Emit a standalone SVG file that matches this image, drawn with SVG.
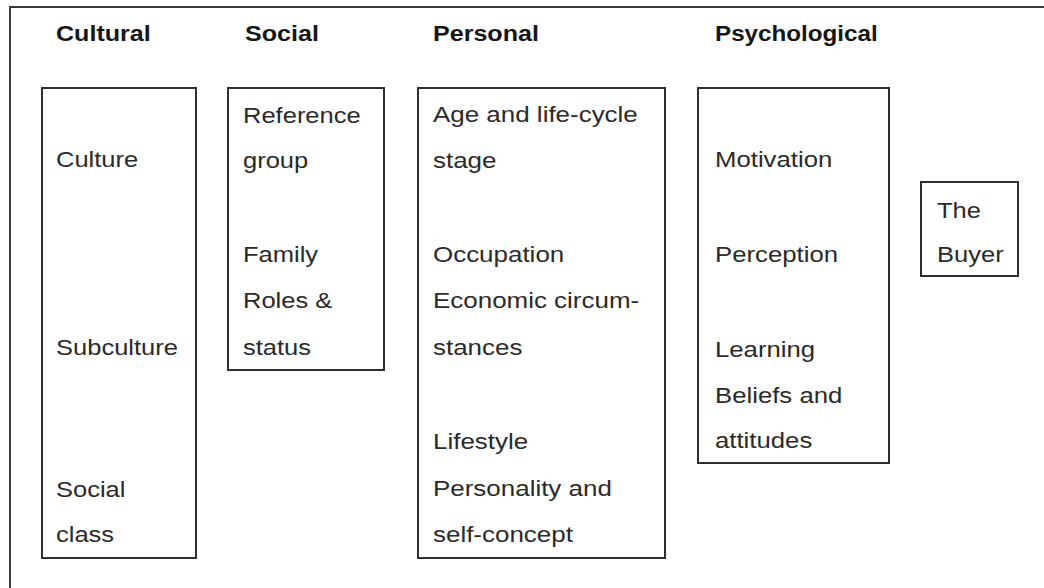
<svg xmlns="http://www.w3.org/2000/svg" width="1044" height="588" viewBox="0 0 1044 588">
  <style>
    .frame { fill: none; stroke: #3a3a3a; stroke-width: 2; }
    .box { fill: #ffffff; stroke: #2e2e2e; stroke-width: 2; }
    .head { font-family: "Liberation Sans", Arial, sans-serif; font-size: 22px; font-weight: bold; fill: #161616; }
    .item { font-family: "Liberation Sans", Arial, sans-serif; font-size: 22px; fill: #2a2a2a; }
  </style>
  <rect width="1044" height="588" fill="#ffffff"/>
  <!-- outer frame, open on the right and bottom edges -->
  <rect class="frame" x="10" y="7" width="1100" height="700"/>

  <!-- column headings -->
  <g id="headings" class="head">
    <text transform="translate(56,41) scale(1.14,1)">Cultural</text>
    <text transform="translate(245,41) scale(1.14,1)">Social</text>
    <text transform="translate(433,41) scale(1.14,1)">Personal</text>
    <text transform="translate(715,41) scale(1.1,1)">Psychological</text>
  </g>

  <g id="cultural">
    <rect class="box" x="42" y="88" width="154" height="470"/>
    <g class="item" transform="translate(56,0) scale(1.16,1)">
      <text y="167">Culture</text>
      <text y="355">Subculture</text>
      <text y="497">Social</text>
      <text y="542">class</text>
    </g>
  </g>

  <g id="social">
    <rect class="box" x="228" y="88" width="156" height="282"/>
    <g class="item" transform="translate(243,0) scale(1.16,1)">
      <text y="123">Reference</text>
      <text y="168">group</text>
      <text y="262">Family</text>
      <text y="308">Roles &amp;</text>
      <text y="355">status</text>
    </g>
  </g>

  <g id="personal">
    <rect class="box" x="418" y="88" width="247" height="470"/>
    <g class="item" transform="translate(433,0) scale(1.18,1)">
      <text y="122">Age and life-cycle</text>
      <text y="168">stage</text>
      <text y="262">Occupation</text>
      <text y="308">Economic circum-</text>
      <text y="355">stances</text>
      <text y="449">Lifestyle</text>
      <text y="496">Personality and</text>
      <text y="542">self-concept</text>
    </g>
  </g>

  <g id="psychological">
    <rect class="box" x="698" y="88" width="191" height="375"/>
    <g class="item" transform="translate(715,0) scale(1.17,1)">
      <text y="167">Motivation</text>
      <text y="262">Perception</text>
      <text y="357">Learning</text>
      <text y="403">Beliefs and</text>
      <text y="448">attitudes</text>
    </g>
  </g>

  <g id="buyer">
    <rect class="box" x="921" y="182" width="97" height="94"/>
    <g class="item" transform="translate(937,0) scale(1.16,1)">
      <text y="218">The</text>
      <text y="262">Buyer</text>
    </g>
  </g>

  <!-- no connectors are drawn between the boxes -->
  <g id="connectors"/>
</svg>
